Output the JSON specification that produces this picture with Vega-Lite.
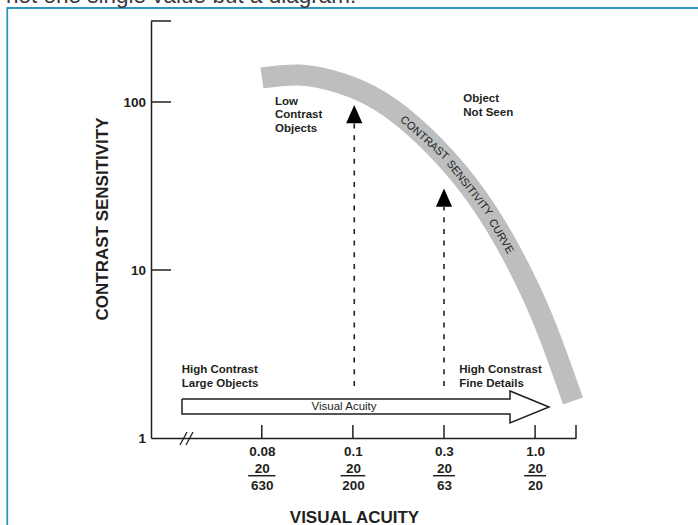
{
  "$schema": "https://vega.github.io/schema/vega-lite/v6.json",
  "width": 425,
  "height": 417,
  "autosize": {"type": "none"},
  "padding": {"left": 151, "top": 21, "right": 122, "bottom": 87},
  "background": "white",
  "config": {
    "view": {"stroke": null},
    "font": "Liberation Sans",
    "axis": {"labelFont": "Liberation Sans", "titleFont": "Liberation Sans"},
    "text": {"font": "Liberation Sans"}
  },
  "datasets": {
    "frame": [{"x": -1.794, "x2": 10, "y": 362.6, "y2": 0.01}],
    "pagetext": [{"x": -1.808, "y": 385.8, "t": "not one single value but a diagram."}],
    "curve": [
      {"x": 1.002, "y": 139.0},
      {"x": 1.419, "y": 144.8},
      {"x": 1.858, "y": 129.7},
      {"x": 2.297, "y": 101.4},
      {"x": 2.780, "y": 62.8},
      {"x": 3.274, "y": 31.6},
      {"x": 3.648, "y": 15.5},
      {"x": 3.944, "y": 7.60},
      {"x": 4.175, "y": 3.83},
      {"x": 4.416, "y": 1.661}
    ],
    "curvetext": [
      {"x": 2.783, "y": 60.8, "t": "CONTRAST"},
      {"x": 3.277, "y": 30.64, "t": "SENSITIVITY"},
      {"x": 3.623, "y": 15.83, "t": "CURVE"}
    ],
    "notes": [
      {"x": 1.145, "y": 96.0, "t": "Low\nContrast\nObjects"},
      {"x": 3.212, "y": 99.6, "t": "Object\nNot Seen"},
      {"x": 0.121, "y": 2.427, "t": "High Contrast\nLarge Objects"},
      {"x": 3.168, "y": 2.427, "t": "High Constrast\nFine Details"}
    ],
    "arrowtext": [{"x": 1.903, "y": 1.529, "t": "Visual Acuity"}],
    "dashes": [
      {"x": 2.015, "y": 2.039, "y2": 75.0},
      {"x": 3.0, "y": 2.039, "y2": 23.7}
    ],
    "heads": [
      {"x": 2.015, "y": 84.6},
      {"x": 3.0, "y": 27.0}
    ],
    "bigarrow": [
      {"o": 1, "x": 0.124, "y": 1.7065},
      {"o": 2, "x": 3.7245, "y": 1.7065},
      {"o": 3, "x": 3.7245, "y": 1.9052},
      {"o": 4, "x": 4.1526, "y": 1.5295},
      {"o": 5, "x": 3.7245, "y": 1.2284},
      {"o": 6, "x": 3.7245, "y": 1.3895},
      {"o": 7, "x": 0.124, "y": 1.3895},
      {"o": 8, "x": 0.124, "y": 1.7065}
    ],
    "xticks": [
      {"x": 1, "y": 1, "y2": 1.195},
      {"x": 2, "y": 1, "y2": 1.195},
      {"x": 3, "y": 1, "y2": 1.195},
      {"x": 4, "y": 1, "y2": 1.195},
      {"x": 4.449, "y": 1, "y2": 1.195}
    ],
    "yticks": [
      {"x": -0.2162, "x2": 0.0033, "y": 10},
      {"x": -0.2162, "x2": 0.0033, "y": 100},
      {"x": -0.2162, "x2": 0.0033, "y": 303.5}
    ],
    "bars": [
      {"x": 0.85, "x2": 1.15, "y": 0.5964},
      {"x": 1.865, "x2": 2.135, "y": 0.5964},
      {"x": 2.88, "x2": 3.12, "y": 0.5964},
      {"x": 3.88, "x2": 4.12, "y": 0.5964}
    ],
    "slashes": [
      {"x": 0.102, "x2": 0.179, "y": 0.9085, "y2": 1.0857},
      {"x": 0.168, "x2": 0.245, "y": 0.9085, "y2": 1.0857}
    ]
  },
  "encoding": {
    "x": {
      "field": "x",
      "type": "quantitative",
      "scale": {"domain": [-0.2162, 4.449], "nice": false, "zero": false},
      "axis": {
        "title": "VISUAL ACUITY",
        "values": [1, 2, 3, 4],
        "labelExpr": "datum.value == 1 ? ['0.08','20','630'] : datum.value == 2 ? ['0.1','20','200'] : datum.value == 3 ? ['0.3','20','63'] : ['1.0','20','20']",
        "ticks": false,
        "tickSize": 0,
        "grid": false,
        "domainColor": "#231f20",
        "domainWidth": 1.5,
        "labelFontWeight": "bold",
        "labelFontSize": 13.5,
        "labelColor": "#231f20",
        "labelLineHeight": 17.3,
        "labelPadding": 6,
        "labelBaseline": "top",
        "labelFlush": false,
        "labelOverlap": false,
        "titleFontSize": 17,
        "titleFontWeight": "bold",
        "titleColor": "#231f20",
        "titleX": 203,
        "titleY": 79,
        "titleAlign": "center",
        "titleBaseline": "middle"
      }
    },
    "y": {
      "field": "y",
      "type": "quantitative",
      "scale": {"type": "log", "domain": [1, 303.5], "nice": false},
      "axis": {
        "title": "CONTRAST SENSITIVITY",
        "values": [1, 10, 100],
        "labelExpr": "datum.value == 1 ? '1' : datum.value == 10 ? '10' : '100'",
        "ticks": false,
        "tickSize": 0,
        "grid": false,
        "domainColor": "#231f20",
        "domainWidth": 1.5,
        "labelFontWeight": "bold",
        "labelFontSize": 13.5,
        "labelColor": "#231f20",
        "labelPadding": 5.5,
        "labelBaseline": "middle",
        "labelOverlap": false,
        "labelFlush": false,
        "titleFontSize": 17,
        "titleFontWeight": "bold",
        "titleColor": "#231f20",
        "titleX": -49,
        "titleY": 197.5,
        "titleAlign": "center",
        "titleBaseline": "middle",
        "titleAngle": -90
      }
    }
  },
  "layer": [
    {
      "data": {"name": "frame"},
      "mark": {"type": "rect", "fill": null, "fillOpacity": 0, "stroke": "#2e95bf", "strokeWidth": 1.8},
      "encoding": {"x2": {"field": "x2"}, "y2": {"field": "y2"}}
    },
    {
      "data": {"name": "pagetext"},
      "mark": {"type": "text", "align": "left", "baseline": "alphabetic", "fontSize": 22.5, "color": "#3a3a3a"},
      "encoding": {"text": {"field": "t"}}
    },
    {
      "data": {"name": "curve"},
      "mark": {"type": "line", "stroke": "#bdbec0", "strokeWidth": 21, "strokeCap": "butt", "interpolate": "natural"},
      "encoding": {}
    },
    {
      "data": {"name": "curvetext"},
      "transform": [{"filter": "datum.t == 'CONTRAST'"}],
      "mark": {"type": "text", "align": "center", "baseline": "middle", "fontSize": 11, "angle": 41.6, "color": "#231f20"},
      "encoding": {"text": {"field": "t"}}
    },
    {
      "data": {"name": "curvetext"},
      "transform": [{"filter": "datum.t == 'SENSITIVITY'"}],
      "mark": {"type": "text", "align": "center", "baseline": "middle", "fontSize": 11, "angle": 52, "color": "#231f20"},
      "encoding": {"text": {"field": "t"}}
    },
    {
      "data": {"name": "curvetext"},
      "transform": [{"filter": "datum.t == 'CURVE'"}],
      "mark": {"type": "text", "align": "center", "baseline": "middle", "fontSize": 11, "angle": 59.6, "color": "#231f20"},
      "encoding": {"text": {"field": "t"}}
    },
    {
      "data": {"name": "dashes"},
      "mark": {"type": "rule", "stroke": "#231f20", "strokeWidth": 1.6, "strokeDash": [5, 6.7]},
      "encoding": {"y2": {"field": "y2"}}
    },
    {
      "data": {"name": "heads"},
      "mark": {"type": "point", "shape": "M0,-1L0.89,1L-0.89,1Z", "size": 331, "filled": true, "fill": "#000000", "opacity": 1, "strokeWidth": 0},
      "encoding": {}
    },
    {
      "data": {"name": "bigarrow"},
      "mark": {"type": "line", "stroke": "#231f20", "strokeWidth": 1.5, "strokeJoin": "miter"},
      "encoding": {"order": {"field": "o", "type": "quantitative"}}
    },
    {
      "data": {"name": "arrowtext"},
      "mark": {"type": "text", "align": "center", "baseline": "middle", "fontSize": 11.5, "color": "#231f20"},
      "encoding": {"text": {"field": "t"}}
    },
    {
      "data": {"name": "notes"},
      "mark": {"type": "text", "align": "left", "baseline": "alphabetic", "fontSize": 11.5, "fontWeight": "bold", "lineBreak": "\n", "lineHeight": 13.4, "color": "#231f20"},
      "encoding": {"text": {"field": "t"}}
    },
    {
      "data": {"name": "xticks"},
      "mark": {"type": "rule", "stroke": "#231f20", "strokeWidth": 1.5},
      "encoding": {"y2": {"field": "y2"}}
    },
    {
      "data": {"name": "yticks"},
      "mark": {"type": "rule", "stroke": "#231f20", "strokeWidth": 1.5},
      "encoding": {"x2": {"field": "x2"}}
    },
    {
      "data": {"name": "bars"},
      "mark": {"type": "rule", "stroke": "#231f20", "strokeWidth": 1.5},
      "encoding": {"x2": {"field": "x2"}}
    },
    {
      "data": {"name": "slashes"},
      "mark": {"type": "rule", "stroke": "#231f20", "strokeWidth": 1.3},
      "encoding": {"x2": {"field": "x2"}, "y2": {"field": "y2"}}
    }
  ]
}
